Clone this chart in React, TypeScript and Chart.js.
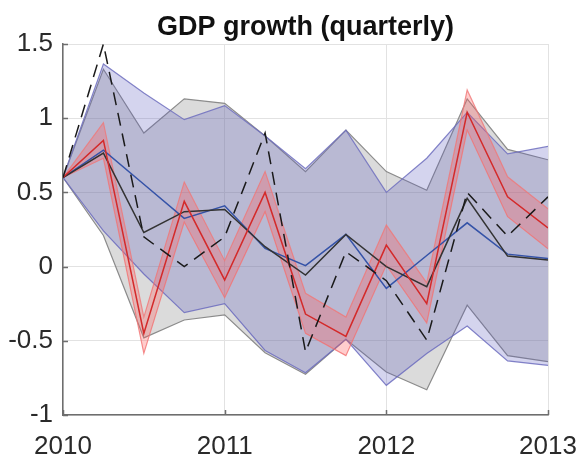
import { useEffect, useRef } from "react";
import { Chart, registerables } from "chart.js";

Chart.register(...registerables);

const titleText = "GDP growth (quarterly)";
const quarters = [2010, 2010.25, 2010.5, 2010.75, 2011, 2011.25, 2011.5, 2011.75, 2012, 2012.25, 2012.5, 2012.75, 2013];
const yearTicks = [2010, 2011, 2012, 2013];
const yearLabels = ["2010", "2011", "2012", "2013"];
const yTickValues = [-1, -0.5, 0, 0.5, 1, 1.5];
const yTickLabels = ["-1", "-0.5", "0", "0.5", "1", "1.5"];

const redMid = [0.6, 0.85, -0.45, 0.44, -0.09, 0.5, -0.32, -0.47, 0.145, -0.25, 1.04, 0.47, 0.26];
const redHi = [0.6, 0.97, -0.34, 0.57, 0.04, 0.64, -0.18, -0.34, 0.28, -0.11, 1.19, 0.605, 0.39];
const redLo = [0.6, 0.73, -0.585, 0.3, -0.21, 0.37, -0.45, -0.6, 0.01, -0.38, 0.92, 0.336, 0.12];
const blueMid = [0.6, 0.785, 0.555, 0.325, 0.41, 0.123, 0.006, 0.217, -0.147, 0.075, 0.295, 0.084, 0.055];
const blackMid = [0.6, 0.765, 0.23, 0.37, 0.385, 0.134, -0.057, 0.217, 0.0, -0.135, 0.46, 0.071, 0.044];
const dashedPath = [0.6, 1.5, 0.2, 0.0, 0.2, 0.9, -0.575, 0.1, -0.095, -0.495, 0.5, 0.205, 0.47];
const blueHi = [0.6, 1.365, 1.17, 0.99, 1.085, 0.88, 0.66, 0.92, 0.5, 0.73, 1.04, 0.76, 0.81];
const blueLo = [0.6, 0.24, -0.05, -0.31, -0.25, -0.565, -0.715, -0.49, -0.8, -0.585, -0.4, -0.635, -0.665];
const greyHi = [0.6, 1.33, 0.9, 1.13, 1.1, 0.88, 0.64, 0.92, 0.64, 0.515, 1.13, 0.79, 0.72];
const greyLo = [0.6, 0.21, -0.48, -0.36, -0.325, -0.58, -0.725, -0.49, -0.71, -0.83, -0.26, -0.6, -0.64];

const FONT = "'Liberation Sans', Arial, Helvetica, sans-serif";

function pts(vals: number[]) {
  return vals.map((v, i) => ({ x: quarters[i], y: v }));
}

const decor = {
  id: "decor",
  afterDraw(chart: any) {
    const { ctx, chartArea: a, scales } = chart;
    ctx.save();
    ctx.strokeStyle = "#6e6e6e";
    ctx.lineWidth = 1.5;
    ctx.beginPath();
    for (const v of yTickValues) {
      const y = Math.round(scales.y.getPixelForValue(v)) + 0.5;
      ctx.moveTo(a.left, y);
      ctx.lineTo(a.left + 5, y);
    }
    for (const v of yearTicks) {
      const x = Math.round(scales.x.getPixelForValue(v)) + 0.5;
      ctx.moveTo(x, a.bottom);
      ctx.lineTo(x, a.bottom - 5);
    }
    ctx.stroke();
    ctx.fillStyle = "#111111";
    ctx.font = `bold 27px ${FONT}`;
    ctx.textAlign = "center";
    ctx.textBaseline = "alphabetic";
    ctx.fillText(titleText, (a.left + a.right) / 2, 35);
    ctx.restore();
  },
};

export default function App() {
  const ref = useRef<HTMLCanvasElement | null>(null);
  useEffect(() => {
    if (!ref.current) return;
    const line = (data: number[], color: string, order: number, extra: any = {}) => ({
      data: pts(data),
      borderColor: color,
      borderWidth: 1.5,
      pointRadius: 0,
      tension: 0,
      fill: false,
      order,
      ...extra,
    });
    const chart = new Chart(ref.current, {
      type: "line",
      data: {
        datasets: [
          line(greyHi, "#8c8c8c", 20, { borderWidth: 1.2, fill: "+1", backgroundColor: "rgba(135,135,135,0.3)" }),
          line(greyLo, "#8c8c8c", 20, { borderWidth: 1.2 }),
          line(blueHi, "rgba(110,110,190,0.85)", 18, { borderWidth: 1.2, fill: "+1", backgroundColor: "rgba(90,90,190,0.26)" }),
          line(blueLo, "rgba(110,110,190,0.85)", 18, { borderWidth: 1.2 }),
          line(redHi, "rgba(240,120,120,0.8)", 16, { borderWidth: 1.2, fill: "+1", backgroundColor: "rgba(255,90,90,0.3)" }),
          line(redLo, "rgba(240,120,120,0.8)", 16, { borderWidth: 1.2 }),
          line(blueMid, "#3553a8", 5),
          line(blackMid, "#333333", 4),
          line(redMid, "#d42a2a", 3),
          line(dashedPath, "#1a1a1a", 2, { borderDash: [13, 8] }),
        ],
      },
      options: {
        animation: false,
        responsive: false,
        devicePixelRatio: 1,
        layout: { padding: { top: 44, right: 32, left: 0, bottom: 0 } },
        plugins: { legend: { display: false }, title: { display: false }, tooltip: { enabled: false } },
        scales: {
          x: {
            type: "linear",
            min: 2010,
            max: 2013,
            afterFit: (s: any) => { s.height = 40; s.paddingLeft = 0; s.paddingRight = 0; },
            afterBuildTicks: (s: any) => { s.ticks = yearTicks.map((v) => ({ value: v })); },
            ticks: {
              padding: 16,
              color: "#2a2a2a",
              font: { family: FONT, size: 26 },
              maxRotation: 0,
              callback: (v: any) => yearLabels[yearTicks.indexOf(Number(v))] ?? "",
            },
            grid: { color: "#e2e2e2", lineWidth: 1, drawTicks: false },
            border: { display: true, color: "#6e6e6e", width: 1.5 },
          },
          y: {
            type: "linear",
            min: -1,
            max: 1.5,
            afterFit: (s: any) => { s.width = 63; s.paddingTop = 0; s.paddingBottom = 0; },
            afterBuildTicks: (s: any) => { s.ticks = yTickValues.map((v) => ({ value: v })); },
            ticks: {
              padding: 10,
              color: "#2a2a2a",
              font: { family: FONT, size: 26 },
              callback: (v: any) => yTickLabels[yTickValues.indexOf(Number(v))] ?? "",
            },
            grid: { color: "#e2e2e2", lineWidth: 1, drawTicks: false },
            border: { display: true, color: "#6e6e6e", width: 1.5 },
          },
        },
      },
      plugins: [decor],
    } as any);
    return () => chart.destroy();
  }, []);
  return (
    <div style={{ position: "fixed", left: 0, top: 0, width: 580, height: 455, background: "#fff" }}>
      <canvas ref={ref} width={580} height={455} style={{ display: "block" }} />
    </div>
  );
}
